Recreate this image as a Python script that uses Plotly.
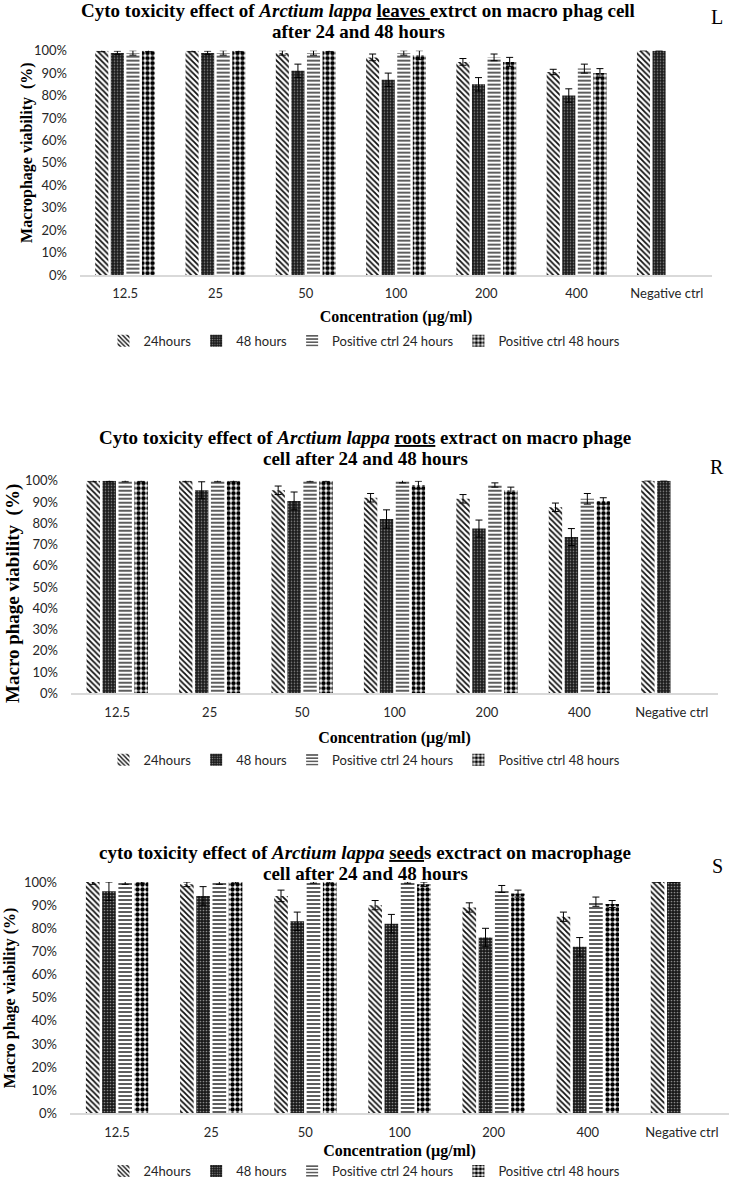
import plotly.graph_objects as go

# ---------------- data ----------------
categories = ["12.5", "25", "50", "100", "200", "400", "Negative ctrl"]
series_names = ["24hours", "48 hours", "Positive ctrl 24 hours", "Positive ctrl 48 hours"]

# Panel L: leaves
leaves_24h = [100, 100, 99, 97, 95, 90.5, 100]
leaves_48h = [99, 99, 91, 87, 85, 80, 100]
leaves_pos24 = [99, 99, 99, 99, 97, 92, None]
leaves_pos48 = [100, 100, 100, 98, 95, 90, None]
leaves_24h_err = [0.5, 0.5, 1, 1.5, 1.5, 1.2, None]
leaves_48h_err = [0.8, 0.8, 3, 3, 3, 3, None]
leaves_pos24_err = [1, 1, 1, 1, 1.5, 2, None]
leaves_pos48_err = [0.5, 0.5, 0.5, 2, 2, 2, None]

# Panel R: roots
roots_24h = [100, 100, 95.5, 92, 91.5, 87.5, 100]
roots_48h = [100, 95.5, 90.5, 82, 77.5, 73.5, 100]
roots_pos24 = [100, 100, 100, 100, 98, 91.5, None]
roots_pos48 = [100, 100, 100, 98, 95.5, 90.5, None]
roots_24h_err = [0.5, 0.5, 2, 2, 2, 2, None]
roots_48h_err = [0.5, 4, 4.2, 4.3, 4, 4, None]
roots_pos24_err = [0.5, 0.5, 0.5, 1, 1, 2.5, None]
roots_pos48_err = [0.5, 0.5, 0.5, 1.8, 1.5, 1.5, None]

# Panel S: seeds
seeds_24h = [100, 99, 94, 90, 89, 85, 100]
seeds_48h = [96, 94, 83, 82, 76, 72, 100]
seeds_pos24 = [100, 100, 100, 100, 97, 91.5, None]
seeds_pos48 = [100, 100, 100, 99, 95, 90.5, None]
seeds_24h_err = [1, 1, 2.5, 2, 2, 2, None]
seeds_48h_err = [4, 4, 4, 4, 4, 4, None]
seeds_pos24_err = [1, 1, 0.5, 0.5, 1.5, 2, None]
seeds_pos48_err = [0.5, 0.5, 0.5, 1, 1.5, 1.5, None]

# ---------------- styling ----------------
W, H = 729, 1186
SANS = "Lato, Liberation Sans, sans-serif"
SERIF = "Liberation Serif, Times New Roman, serif"

patterns = [
    dict(shape="\\", size=4, solidity=0.45, fgcolor="#111111", bgcolor="#ffffff", fillmode="replace"),
    dict(shape=".", size=3, solidity=0.25, fgcolor="#8a8a8a", bgcolor="#1a1a1a", fillmode="replace"),
    dict(shape="-", size=4, solidity=0.4, fgcolor="#333333", bgcolor="#ffffff", fillmode="replace"),
    dict(shape=".", size=5, solidity=0.62, fgcolor="#000000", bgcolor="#ffffff", fillmode="replace"),
]

def py(px):
    return 1 - px / H

def pxx(px):
    return px / W

panels = [
    dict(vals=[leaves_24h, leaves_48h, leaves_pos24, leaves_pos48],
         errs=[leaves_24h_err, leaves_48h_err, leaves_pos24_err, leaves_pos48_err],
         xa="x", ya="y", legend="legend",
         xdom=(80, 712), ydom=(51, 277),
         ytitle="Macrophage viability  (%)", ytsize=16, yt_xy=(27, 154),
         title=["Cyto toxicity effect of <i>Arctium lappa</i> <u>leaves </u>extrct on macro phag cell",
                "after 24 and 48 hours"],
         title_y=(11, 32), title_x=358, letter="L", letter_y=17,
         legend_y=343, xtitle_std=10),
    dict(vals=[roots_24h, roots_48h, roots_pos24, roots_pos48],
         errs=[roots_24h_err, roots_48h_err, roots_pos24_err, roots_pos48_err],
         xa="x2", ya="y2", legend="legend2",
         xdom=(71, 718), ydom=(484, 698),
         ytitle="Macro phage viability  (%)", ytsize=19, yt_xy=(13, 598),
         title=["Cyto toxicity effect of <i>Arctium lappa</i> <u>roots</u> extract on macro phage",
                "cell after 24 and 48 hours"],
         title_y=(440.5, 461.5), title_x=365, letter="R", letter_y=470,
         legend_y=765, xtitle_std=13),
    dict(vals=[seeds_24h, seeds_48h, seeds_pos24, seeds_pos48],
         errs=[seeds_24h_err, seeds_48h_err, seeds_pos24_err, seeds_pos48_err],
         xa="x3", ya="y3", legend="legend3",
         xdom=(70, 729), ydom=(888, 1121),
         ytitle="Macro phage viability (%)", ytsize=16, yt_xy=(10, 1005),
         title=["cyto toxicity effect of <i>Arctium lappa</i> <u>seed</u>s exctract on macrophage",
                "cell after 24 and 48 hours"],
         title_y=(858, 879), title_x=365, letter="S", letter_y=872,
         legend_y=1179, xtitle_std=6),
]

fig = go.Figure()
annotations = []
layout = dict(
    width=W, height=H,
    margin=dict(l=0, r=0, t=0, b=0),
    paper_bgcolor="white", plot_bgcolor="white",
    barmode="group", bargap=0.31, bargroupgap=0.16,
    showlegend=True,
)

for i, p in enumerate(panels):
    for j in range(4):
        fig.add_trace(go.Bar(
            x=categories, y=p["vals"][j], name=series_names[j],
            xaxis=p["xa"], yaxis=p["ya"], legend=p["legend"],
            marker=dict(color=patterns[j]["fgcolor"], line=dict(width=0), pattern=patterns[j]),
            error_y=dict(type="data", array=p["errs"][j], visible=True,
                         color="#000000", thickness=1, width=3.5),
        ))
    suf = "" if i == 0 else str(i + 1)
    layout["xaxis" + suf] = dict(
        domain=[pxx(p["xdom"][0]), pxx(p["xdom"][1])], anchor=p["ya"],
        showline=True, linecolor="#d9d9d9", linewidth=1.5,
        showgrid=False, zeroline=False, ticks="",
        tickfont=dict(family=SANS, size=13, color="#262626"),
        ticklabelstandoff=6,
        title=dict(text="Concentration (µg/ml)", standoff=p["xtitle_std"],
                   font=dict(family=SERIF, size=16, color="#000000", weight="bold")),
        automargin=False, fixedrange=True,
    )
    layout["yaxis" + suf] = dict(
        domain=[py(p["ydom"][1]), py(p["ydom"][0])], anchor=p["xa"],
        range=[0, 100], dtick=10, ticksuffix="%",
        showline=False, showgrid=False, zeroline=False, ticks="",
        tickfont=dict(family=SANS, size=13, color="#262626"),
        ticklabelstandoff=12,
        automargin=False, fixedrange=True,
    )
    layout[p["legend"]] = dict(
        orientation="h", x=0.5, xanchor="center",
        y=py(p["legend_y"]), yanchor="middle",
        font=dict(family=SANS, size=13, color="#262626"),
        itemwidth=30, bgcolor="rgba(0,0,0,0)", tracegroupgap=0,
    )
    # y-axis title
    annotations.append(dict(
        text=p["ytitle"], x=pxx(p["yt_xy"][0]), y=py(p["yt_xy"][1]), xref="paper", yref="paper",
        xanchor="center", yanchor="middle", showarrow=False, textangle=-90, borderpad=0,
        font=dict(family=SERIF, size=p["ytsize"], color="#000000", weight="bold"),
    ))
    # chart title (two lines)
    for k, t in enumerate(p["title"]):
        annotations.append(dict(
            text=t, x=pxx(p["title_x"]), y=py(p["title_y"][k]), xref="paper", yref="paper",
            xanchor="center", yanchor="middle", showarrow=False, borderpad=0,
            font=dict(family=SERIF, size=19, color="#000000", weight="bold"),
        ))
    # panel letter
    annotations.append(dict(
        text=p["letter"], x=pxx(717), y=py(p["letter_y"]), xref="paper", yref="paper",
        xanchor="center", yanchor="middle", showarrow=False,
        font=dict(family=SERIF, size=20, color="#000000"),
    ))

layout["annotations"] = annotations
fig.update_layout(**layout)
fig.write_html("out.html", config={"displayModeBar": False},
               post_script="document.body.style.margin='0px';document.body.style.overflow='hidden';")
